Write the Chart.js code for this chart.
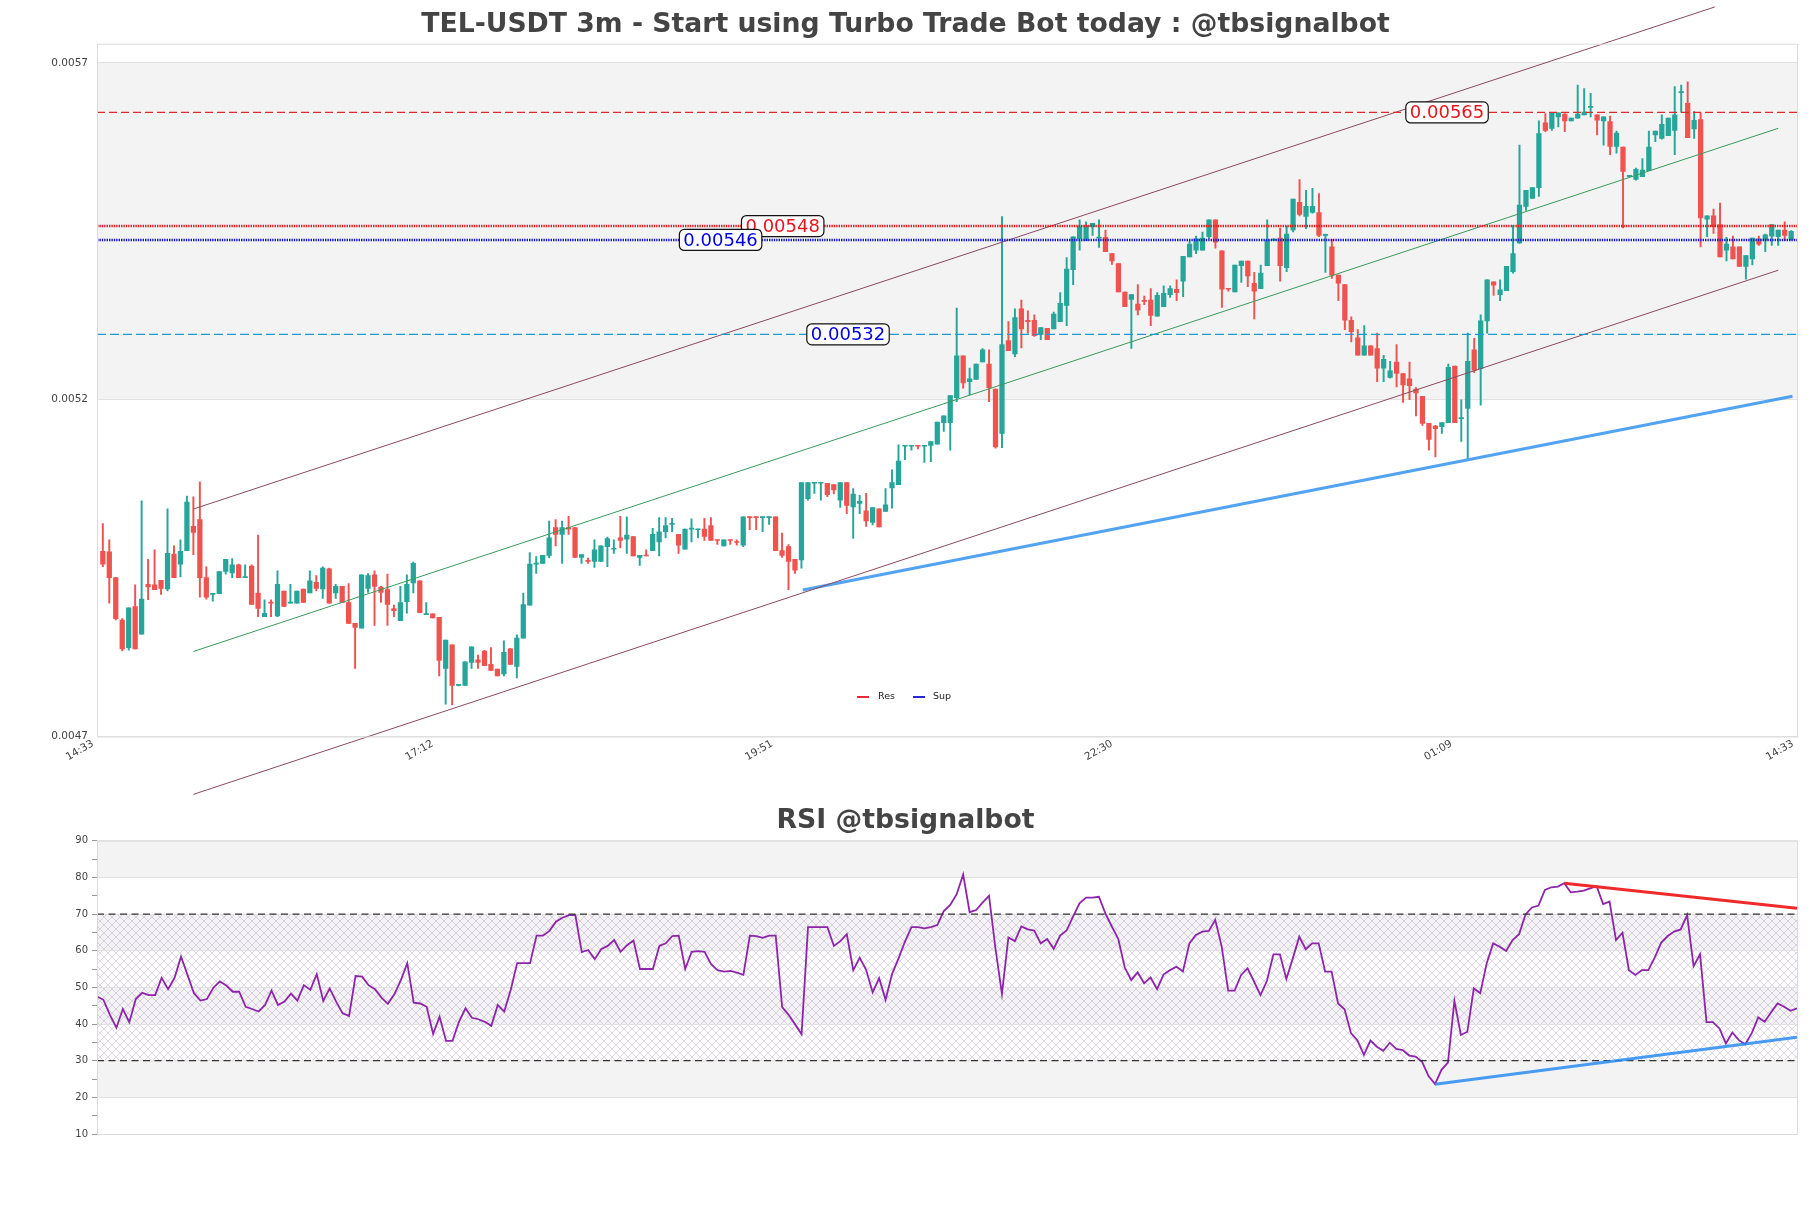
<!DOCTYPE html>
<html>
<head>
<meta charset="utf-8">
<script src="https://cdn.jsdelivr.net/npm/chart.js@4.4.1/dist/chart.umd.min.js"></script>
<style>
  html, body { margin: 0; padding: 0; background: #fff; }
  #wrap { position: relative; width: 1811px; height: 1208px; }
  #price { position: absolute; left: 0; top: 0; }
  #rsi { position: absolute; left: 0; top: 805px; }
</style>
</head>
<body>
<div id="wrap">
  <canvas id="price" width="1811" height="805"></canvas>
  <canvas id="rsi" width="1811" height="403"></canvas>
</div>
<script>
// ---- candles (3m) ----
const openP = [
  0.004997,0.004996,0.004958,0.004895,0.004854,0.004915,0.004874,0.004948,0.004947,0.004954,
  0.004941,0.004993,0.004978,0.004998,0.005034,0.005044,0.004958,0.004933,0.004934,0.004967,
  0.004965,0.004977,0.004958,0.004975,0.004935,0.004900,0.004921,0.004901,0.004938,0.004920,
  0.004920,0.004941,0.004935,0.004951,0.004941,0.004971,0.004935,0.004945,0.004921,0.004890,
  0.004883,0.004942,0.004962,0.004944,0.004940,0.004912,0.004894,0.004922,0.004950,0.004953,
  0.004903,0.004904,0.004899,0.004823,0.004858,0.004798,0.004798,0.004832,0.004836,0.004849,
  0.004829,0.004822,0.004815,0.004852,0.004826,0.004868,0.004917,0.004978,0.004979,0.004991,
  0.005032,0.005022,0.005032,0.005032,0.004988,0.004983,0.004982,0.004982,0.005004,0.005000,
  0.005017,0.005015,0.005019,0.004988,0.004991,0.004998,0.005011,0.005026,0.005037,0.005022,
  0.005000,0.005030,0.005029,0.005030,0.005035,0.005014,0.005005,0.005014,0.005011,0.005006,
  0.005048,0.005048,0.005047,0.005047,0.005048,0.004998,0.005004,0.004985,0.004984,0.005075,
  0.005098,0.005098,0.005098,0.005096,0.005073,0.005099,0.005063,0.005068,0.005057,0.005040,
  0.005060,0.005056,0.005091,0.005096,0.005153,0.005153,0.005154,0.005153,0.005154,0.005156,
  0.005188,0.005188,0.005225,0.005287,0.005249,0.005252,0.005278,0.005275,0.005238,0.005172,
  0.005310,0.005290,0.005357,0.005340,0.005340,0.005319,0.005328,0.005327,0.005338,0.005362,
  0.005415,0.005461,0.005458,0.005479,0.005462,0.005463,0.005439,0.005424,0.005382,0.005371,
  0.005364,0.005369,0.005370,0.005346,0.005360,0.005378,0.005386,0.005398,0.005434,0.005444,
  0.005444,0.005464,0.005489,0.005443,0.005387,0.005382,0.005421,0.005428,0.005395,0.005387,
  0.005421,0.005459,0.005462,0.005418,0.005474,0.005515,0.005494,0.005500,0.005500,0.005466,
  0.005449,0.005407,0.005393,0.005340,0.005314,0.005288,0.005302,0.005298,0.005269,0.005255,
  0.005278,0.005261,0.005253,0.005238,0.005227,0.005187,0.005183,0.005182,0.005188,0.005272,
  0.005194,0.005209,0.005296,0.005268,0.005339,0.005397,0.005378,0.005384,0.005412,0.005455,
  0.005509,0.005521,0.005537,0.005633,0.005625,0.005642,0.005646,0.005636,0.005640,0.005645,
  0.005656,0.005645,0.005636,0.005635,0.005598,0.005597,0.005553,0.005549,0.005553,0.005562,
  0.005615,0.005610,0.005614,0.005622,0.005678,0.005662,0.005624,0.005638,0.005490,0.005495,
  0.005482,0.005444,0.005449,0.005449,0.005420,0.005431,0.005461,0.005459,0.005465,0.005464,
  0.005474,0.005460
];
const highP = [
  0.005038,0.005014,0.004958,0.004897,0.004913,0.004947,0.005072,0.004985,0.004999,0.004954,
  0.005060,0.005005,0.005014,0.005079,0.005078,0.005100,0.004974,0.004934,0.004967,0.004985,
  0.004986,0.004978,0.004977,0.004977,0.005021,0.004925,0.004925,0.004968,0.004938,0.004948,
  0.004938,0.004941,0.004968,0.004961,0.004974,0.004972,0.004948,0.004945,0.004949,0.004890,
  0.004962,0.004964,0.004968,0.004945,0.004963,0.004917,0.004945,0.004962,0.004981,0.004953,
  0.004921,0.004904,0.004899,0.004865,0.004858,0.004799,0.004833,0.004855,0.004843,0.004850,
  0.004854,0.004822,0.004864,0.004853,0.004873,0.004935,0.004995,0.004989,0.004991,0.005042,
  0.005044,0.005042,0.005049,0.005032,0.004992,0.004987,0.005014,0.005005,0.005018,0.005014,
  0.005049,0.005048,0.005019,0.004991,0.004999,0.005031,0.005047,0.005047,0.005046,0.005022,
  0.005030,0.005045,0.005030,0.005046,0.005047,0.005014,0.005014,0.005014,0.005014,0.005048,
  0.005048,0.005048,0.005048,0.005048,0.005048,0.005024,0.005007,0.004985,0.005099,0.005099,
  0.005099,0.005099,0.005098,0.005096,0.005099,0.005099,0.005090,0.005080,0.005083,0.005062,
  0.005060,0.005090,0.005118,0.005155,0.005154,0.005154,0.005154,0.005154,0.005160,0.005189,
  0.005198,0.005228,0.005358,0.005287,0.005269,0.005275,0.005298,0.005296,0.005238,0.005494,
  0.005338,0.005357,0.005370,0.005354,0.005348,0.005329,0.005328,0.005352,0.005381,0.005433,
  0.005464,0.005489,0.005486,0.005484,0.005489,0.005474,0.005439,0.005424,0.005382,0.005378,
  0.005393,0.005376,0.005387,0.005381,0.005391,0.005391,0.005400,0.005435,0.005458,0.005465,
  0.005471,0.005489,0.005489,0.005443,0.005387,0.005422,0.005428,0.005428,0.005411,0.005422,
  0.005489,0.005461,0.005477,0.005480,0.005520,0.005549,0.005533,0.005536,0.005528,0.005468,
  0.005460,0.005407,0.005393,0.005345,0.005326,0.005332,0.005302,0.005321,0.005288,0.005279,
  0.005304,0.005261,0.005278,0.005240,0.005227,0.005187,0.005184,0.005188,0.005275,0.005272,
  0.005222,0.005321,0.005313,0.005348,0.005400,0.005397,0.005400,0.005420,0.005481,0.005600,
  0.005533,0.005537,0.005636,0.005647,0.005648,0.005648,0.005647,0.005640,0.005689,0.005684,
  0.005677,0.005645,0.005642,0.005643,0.005621,0.005597,0.005555,0.005566,0.005580,0.005621,
  0.005621,0.005645,0.005640,0.005687,0.005689,0.005694,0.005650,0.005648,0.005495,0.005505,
  0.005514,0.005463,0.005465,0.005449,0.005436,0.005462,0.005465,0.005468,0.005482,0.005474,
  0.005486,0.005473
];
const lowP = [
  0.004974,0.004920,0.004895,0.004849,0.004850,0.004852,0.004874,0.004925,0.004940,0.004933,
  0.004938,0.004958,0.004959,0.004998,0.004992,0.004929,0.004926,0.004923,0.004934,0.004963,
  0.004958,0.004958,0.004958,0.004918,0.004900,0.004900,0.004900,0.004900,0.004915,0.004920,
  0.004920,0.004921,0.004935,0.004938,0.004927,0.004920,0.004927,0.004921,0.004890,0.004823,
  0.004883,0.004936,0.004887,0.004921,0.004887,0.004900,0.004894,0.004905,0.004935,0.004906,
  0.004903,0.004898,0.004812,0.004770,0.004769,0.004797,0.004798,0.004823,0.004823,0.004827,
  0.004820,0.004812,0.004812,0.004829,0.004809,0.004868,0.004917,0.004964,0.004979,0.004987,
  0.005005,0.004979,0.005022,0.004988,0.004979,0.004979,0.004973,0.004982,0.004974,0.004994,
  0.005002,0.004994,0.004990,0.004976,0.004990,0.004998,0.004990,0.005017,0.005026,0.004994,
  0.005000,0.005011,0.005017,0.005013,0.005013,0.005007,0.005005,0.005007,0.005006,0.005004,
  0.005029,0.005029,0.005026,0.005037,0.004998,0.004988,0.004940,0.004964,0.004972,0.005073,
  0.005083,0.005073,0.005078,0.005082,0.005062,0.005053,0.005016,0.005053,0.005034,0.005036,
  0.005033,0.005056,0.005061,0.005096,0.005133,0.005147,0.005149,0.005129,0.005130,0.005156,
  0.005175,0.005147,0.005219,0.005239,0.005229,0.005252,0.005278,0.005219,0.005150,0.005151,
  0.005295,0.005286,0.005299,0.005321,0.005316,0.005311,0.005311,0.005327,0.005338,0.005332,
  0.005393,0.005444,0.005458,0.005466,0.005448,0.005442,0.005423,0.005382,0.005360,0.005298,
  0.005348,0.005363,0.005332,0.005346,0.005360,0.005374,0.005369,0.005375,0.005434,0.005439,
  0.005444,0.005461,0.005447,0.005359,0.005383,0.005382,0.005396,0.005390,0.005342,0.005387,
  0.005421,0.005458,0.005398,0.005412,0.005471,0.005495,0.005476,0.005499,0.005464,0.005411,
  0.005402,0.005369,0.005326,0.005308,0.005288,0.005288,0.005288,0.005249,0.005249,0.005254,
  0.005241,0.005218,0.005222,0.005198,0.005184,0.005147,0.005137,0.005172,0.005188,0.005188,
  0.005160,0.005135,0.005262,0.005214,0.005321,0.005377,0.005369,0.005384,0.005410,0.005454,
  0.005503,0.005521,0.005524,0.005620,0.005622,0.005627,0.005620,0.005636,0.005640,0.005645,
  0.005642,0.005615,0.005600,0.005586,0.005588,0.005477,0.005553,0.005548,0.005553,0.005562,
  0.005605,0.005609,0.005614,0.005586,0.005649,0.005611,0.005610,0.005449,0.005464,0.005469,
  0.005434,0.005428,0.005431,0.005420,0.005401,0.005422,0.005451,0.005442,0.005451,0.005451,
  0.005458,0.005459
];
const closeP = [
  0.004978,0.004958,0.004897,0.004852,0.004913,0.004852,0.004926,0.004944,0.004940,0.004942,
  0.004994,0.004958,0.004997,0.005070,0.005025,0.004958,0.004929,0.004934,0.004967,0.004985,
  0.004977,0.004958,0.004959,0.004918,0.004912,0.004905,0.004920,0.004948,0.004915,0.004921,
  0.004938,0.004921,0.004953,0.004942,0.004972,0.004920,0.004945,0.004921,0.004890,0.004884,
  0.004962,0.004961,0.004945,0.004936,0.004918,0.004909,0.004921,0.004948,0.004979,0.004906,
  0.004904,0.004898,0.004835,0.004865,0.004798,0.004799,0.004833,0.004855,0.004832,0.004827,
  0.004820,0.004812,0.004847,0.004829,0.004868,0.004918,0.004978,0.004979,0.004991,0.005017,
  0.005022,0.005032,0.005030,0.004988,0.004992,0.004982,0.004999,0.005005,0.005016,0.005001,
  0.005013,0.005021,0.004990,0.004991,0.004990,0.005022,0.005026,0.005035,0.005038,0.005006,
  0.005030,0.005031,0.005030,0.005019,0.005013,0.005013,0.005014,0.005013,0.005010,0.005048,
  0.005047,0.005047,0.005048,0.005048,0.004998,0.004991,0.004982,0.004969,0.005099,0.005099,
  0.005099,0.005099,0.005081,0.005088,0.005099,0.005065,0.005082,0.005071,0.005042,0.005062,
  0.005033,0.005066,0.005099,0.005131,0.005154,0.005154,0.005153,0.005154,0.005160,0.005189,
  0.005198,0.005228,0.005287,0.005247,0.005253,0.005275,0.005296,0.005240,0.005152,0.005304,
  0.005295,0.005344,0.005327,0.005338,0.005317,0.005329,0.005311,0.005349,0.005365,0.005416,
  0.005464,0.005480,0.005481,0.005484,0.005463,0.005442,0.005428,0.005382,0.005360,0.005378,
  0.005355,0.005368,0.005347,0.005377,0.005380,0.005387,0.005381,0.005435,0.005453,0.005461,
  0.005462,0.005489,0.005456,0.005386,0.005386,0.005422,0.005428,0.005406,0.005383,0.005410,
  0.005459,0.005460,0.005421,0.005468,0.005520,0.005497,0.005509,0.005509,0.005466,0.005467,
  0.005407,0.005395,0.005340,0.005323,0.005288,0.005302,0.005288,0.005269,0.005282,0.005265,
  0.005261,0.005244,0.005243,0.005232,0.005187,0.005163,0.005179,0.005188,0.005270,0.005188,
  0.005195,0.005279,0.005266,0.005339,0.005400,0.005392,0.005385,0.005420,0.005439,0.005511,
  0.005533,0.005537,0.005617,0.005622,0.005648,0.005648,0.005636,0.005640,0.005646,0.005649,
  0.005657,0.005637,0.005642,0.005598,0.005618,0.005561,0.005555,0.005564,0.005563,0.005597,
  0.005621,0.005631,0.005640,0.005645,0.005679,0.005611,0.005637,0.005492,0.005495,0.005479,
  0.005434,0.005453,0.005431,0.005420,0.005436,0.005462,0.005453,0.005467,0.005482,0.005474,
  0.005466,0.005472
];

// axis ticks
const timeTicks = [-0.9, 51.6, 104.1, 156.6, 209.1, 261.9];
const timeLabels = ['14:33', '17:12', '19:51', '22:30', '01:09', '14:33'];
const priceTicks = [0.004722, 0.005222, 0.005722];
const priceTickLabels = ['0.0047', '0.0052', '0.0057'];

// levels: resistance (red) / support (blue)
const resLevels = [0.0056485, 0.0054799];
const resLabels = ['0.00565', '0.00548'];
const resLabelX = [207.8, 105.1];
const supLevels = [0.0054592, 0.0053191];
const supLabels = ['0.00546', '0.00532'];
const supLabelX = [95.5, 115.2];

// trend channel + support trendline (candle index, price)
const upperX = [14, 249.2];
const upperY = [0.0050597, 0.0058052];
const channelX = [14, 259];
const channelMid = [0.0048482, 0.0056250];
const channelLower = [0.0046361, 0.0054143];
const trendX = [108.2, 261.2];
const trendY = [0.0049395, 0.0052272];

// ---- RSI ----
const rsiValues = [
  47.5,46.6,42.5,39.0,44.1,40.5,46.8,48.5,47.9,47.9,52.6,49.5,52.6,58.4,53.4,48.4,46.4,46.8,49.9,51.6,
  50.5,48.8,48.8,44.7,44.1,43.4,45.2,49.1,45.2,46.1,48.3,46.4,50.6,49.3,53.6,46.3,49.7,46.1,42.9,42.2,
  53.1,52.9,50.6,49.5,47.2,45.5,48.1,51.9,56.6,45.8,45.6,44.7,37.3,42.0,35.4,35.4,40.6,44.3,41.7,41.3,
  40.6,39.5,45.2,43.4,49.3,56.6,56.6,56.6,64.1,64.1,65.4,67.9,69.0,69.7,69.7,59.6,60.2,57.7,60.4,61.3,
  62.9,59.7,61.5,62.8,55.0,55.0,55.0,61.3,62.0,
  64.0,64.1,55.0,59.7,59.9,59.7,56.3,54.7,54.3,54.5,54.0,53.4,64.1,64.0,63.5,64.1,64.1,44.6,42.5,39.9,
  37.2,66.4,66.4,66.4,66.4,61.3,62.6,64.5,54.7,58.1,54.7,48.6,52.5,46.6,53.6,57.9,62.5,66.4,66.4,66.1,
  66.4,67.0,70.8,72.5,75.4,80.8,70.5,71.1,73.1,75.0,60.6,48.2,63.6,62.6,66.6,65.8,65.5,62.0,63.2,60.5,
  64.1,65.5,69.3,72.9,74.5,74.5,74.7,70.2,66.6,63.2,55.4,52.0,54.1,51.1,52.7,49.5,53.5,54.7,55.6,54.3,
  62.0,64.3,65.2,65.4,68.4,61.1,49.1,49.1,53.4,
  55.2,51.6,47.9,51.8,59.0,59.0,52.3,57.9,63.8,60.4,62.0,62.0,54.3,54.3,45.6,44.0,37.5,35.5,31.6,35.5,
  33.8,32.7,34.9,33.2,32.9,31.4,31.1,29.7,25.8,23.6,27.5,29.5,46.3,37.0,37.9,49.7,48.4,56.6,62.0,61.1,
  59.9,62.9,64.5,69.9,71.8,72.3,76.6,77.3,77.5,78.4,75.9,76.1,76.4,77.0,77.6,72.7,73.4,62.9,64.9,54.7,
  53.4,54.7,54.7,58.2,62.2,64.0,65.2,65.8,69.7,55.8,59.0,40.5,40.5,38.8,34.7,37.7,35.6,34.5,37.5,41.8,
  40.6,43.2,45.6,44.7,43.6,44.3
];
const rsiResX = [227, 263];
const rsiResY = [78.4, 71.6];
const rsiSupX = [207, 263];
const rsiSupY = [23.6, 36.4];
const rsiBands = [[80, 90], [60, 70], [40, 50], [20, 30]];
const rsiLevels = [70, 30];

const FONT = '"DejaVu Sans", Verdana, sans-serif';
const UP = '#26a69a', DOWN = '#ef5350';
Chart.defaults.font.family = FONT;

function seg(xs, ys, color, width, dash, noClip) {
  const ds = {
    type: 'line',
    data: xs.map((x, k) => ({ x: x, y: ys[k] })),
    borderColor: color, borderWidth: width, borderDash: dash || [],
    pointRadius: 0, fill: false, tension: 0, order: 0
  };
  if (noClip) ds.clip = false;
  return ds;
}

function tag(ctx, text, cx, cy, color) {
  ctx.save();
  ctx.font = '18px ' + FONT;
  const w = ctx.measureText(text).width + 8, h = 21;
  ctx.beginPath();
  ctx.roundRect(cx - w / 2, cy - h / 2, w, h, 5);
  ctx.fillStyle = '#fff'; ctx.fill();
  ctx.lineWidth = 1.2; ctx.strokeStyle = '#111'; ctx.stroke();
  ctx.fillStyle = color; ctx.textAlign = 'center'; ctx.textBaseline = 'middle';
  ctx.fillText(text, cx, cy + 1);
  ctx.restore();
}

const idx = openP.map((_, i) => i);
const candleColors = idx.map(i => closeP[i] >= openP[i] ? UP : DOWN);
const xMin = timeTicks[0], xMax = timeTicks[timeTicks.length - 1];

const priceOverlay = {
  id: 'priceOverlay',
  beforeDraw(chart) {
    const { ctx, chartArea: a, scales: { y } } = chart;
    ctx.save();
    ctx.fillStyle = '#f3f3f3';
    const t = y.getPixelForValue(priceTicks[2]), b = y.getPixelForValue(priceTicks[1]);
    ctx.fillRect(a.left, t, a.right - a.left, b - t);
    ctx.restore();
  },
  afterDatasetsDraw(chart) {
    const { ctx, scales: { x, y } } = chart;
    resLevels.forEach((v, k) => tag(ctx, resLabels[k], x.getPixelForValue(resLabelX[k]), y.getPixelForValue(v), '#e8141c'));
    supLevels.forEach((v, k) => tag(ctx, supLabels[k], x.getPixelForValue(supLabelX[k]), y.getPixelForValue(v), '#0000e0'));
  },
  afterDraw(chart) {
    const { ctx, chartArea: a } = chart;
    ctx.save();
    ctx.strokeStyle = '#dcdcdc'; ctx.lineWidth = 1;
    ctx.strokeRect(a.left + 0.5, a.top + 0.5, a.right - a.left, a.bottom - a.top);
    ctx.fillStyle = '#444'; ctx.font = 'bold 26.7px ' + FONT;
    ctx.textAlign = 'center'; ctx.textBaseline = 'middle';
    ctx.fillText('TEL-USDT 3m - Start using Turbo Trade Bot today : @tbsignalbot', 905.5, 25);
    // legend
    ctx.font = '9.5px ' + FONT; ctx.textAlign = 'left'; ctx.fillStyle = '#222';
    ctx.lineWidth = 1.8;
    ctx.strokeStyle = '#e8141c';
    ctx.beginPath(); ctx.moveTo(857, 697); ctx.lineTo(869, 697); ctx.stroke();
    ctx.fillText('Res', 878, 697);
    ctx.strokeStyle = '#1010c8';
    ctx.beginPath(); ctx.moveTo(913, 697); ctx.lineTo(925, 697); ctx.stroke();
    ctx.fillText('Sup', 933, 697);
    ctx.restore();
  }
};

new Chart(document.getElementById('price'), {
  type: 'bar',
  data: {
    datasets: [
      seg([xMin, xMax], [resLevels[0], resLevels[0]], '#dd2a2a', 1.2, [8, 4]),
      seg([xMin, xMax], [resLevels[1], resLevels[1]], '#e41a1a', 2.6, [1.4, 1]),
      seg([xMin, xMax], [supLevels[0], supLevels[0]], '#1a1acc', 2.6, [1.4, 1]),
      seg([xMin, xMax], [supLevels[1], supLevels[1]], '#1c9ad8', 1.3, [9, 4]),
      seg(upperX, upperY, '#8b4a5e', 1, null, true),
      seg(channelX, channelMid, '#3a9a5c', 1, null, true),
      seg(channelX, channelLower, '#8b4a5e', 1, null, true),
      seg(trendX, trendY, 'rgba(40,140,240,0.8)', 3.2),
      {
        type: 'bar', data: idx.map(i => ({ x: i, y: [lowP[i], highP[i]] })),
        backgroundColor: candleColors, barThickness: 1.3, grouped: false, order: 2
      },
      {
        type: 'bar', data: idx.map(i => ({ x: i, y: [openP[i], closeP[i]] })),
        backgroundColor: candleColors, barThickness: 4.6, minBarLength: 1, grouped: false, order: 1
      }
    ]
  },
  options: {
    responsive: false, animation: false, devicePixelRatio: 1,
    layout: { padding: { top: 43.7, right: 14, bottom: 0, left: 0 } },
    plugins: { legend: { display: false }, tooltip: { enabled: false } },
    scales: {
      x: {
        type: 'linear', min: xMin, max: xMax, offset: false,
        grid: { display: false, offset: false, drawTicks: false },
        border: { display: false },
        afterBuildTicks: s => { s.ticks = timeTicks.map(v => ({ value: v })); },
        afterFit: s => { s.height = 68.5; },
        ticks: {
          autoSkip: false, minRotation: 30, maxRotation: 30, padding: 1, labelOffset: -4,
          color: '#444', font: { size: 10.5 },
          callback: (v, i) => timeLabels[i]
        }
      },
      y: {
        min: priceTicks[0], max: 0.0057506,
        grid: { color: '#e2e2e2', drawTicks: false },
        border: { display: false },
        afterBuildTicks: s => { s.ticks = priceTicks.map(v => ({ value: v })); },
        afterFit: s => { s.width = 97; },
        ticks: { padding: 9, color: '#444', font: { size: 10.5 }, callback: (v, i) => priceTickLabels[i] }
      }
    }
  },
  plugins: [priceOverlay]
});

// ---- RSI chart ----
function hatch(ctx) {
  const c = document.createElement('canvas');
  c.width = 8; c.height = 8;
  const g = c.getContext('2d');
  g.strokeStyle = 'rgba(170,140,195,0.5)'; g.lineWidth = 0.7;
  g.beginPath(); g.moveTo(0, 0); g.lineTo(8, 8); g.moveTo(8, 0); g.lineTo(0, 8); g.stroke();
  return ctx.createPattern(c, 'repeat');
}

const rsiOverlay = {
  id: 'rsiOverlay',
  beforeDraw(chart) {
    const { ctx, chartArea: a, scales: { y } } = chart;
    ctx.save();
    ctx.fillStyle = '#f3f3f3';
    rsiBands.forEach(([lo, hi]) => {
      const t = y.getPixelForValue(hi), b = y.getPixelForValue(lo);
      ctx.fillRect(a.left, t, a.right - a.left, b - t);
    });
    const t = y.getPixelForValue(rsiLevels[0]), b = y.getPixelForValue(rsiLevels[1]);
    ctx.fillStyle = hatch(ctx);
    ctx.fillRect(a.left, t, a.right - a.left, b - t);
    ctx.restore();
  },
  afterDraw(chart) {
    const { ctx, chartArea: a } = chart;
    ctx.save();
    ctx.strokeStyle = '#dcdcdc'; ctx.lineWidth = 1;
    ctx.strokeRect(a.left + 0.5, a.top + 0.5, a.right - a.left, a.bottom - a.top);
    ctx.fillStyle = '#444'; ctx.font = 'bold 26.7px ' + FONT;
    ctx.textAlign = 'center'; ctx.textBaseline = 'middle';
    ctx.fillText('RSI @tbsignalbot', 905.5, 16.5);
    ctx.restore();
  }
};

const rsiLast = rsiValues.length - 1;
new Chart(document.getElementById('rsi'), {
  type: 'line',
  data: {
    datasets: [
      seg(rsiResX, rsiResY, '#f02a2a', 3),
      seg(rsiSupX, rsiSupY, 'rgba(40,140,240,0.85)', 3),
      {
        data: rsiValues.map((v, i) => ({ x: i, y: v })),
        borderColor: '#8e24aa', borderWidth: 1.8, pointRadius: 0, tension: 0, order: 1
      },
      seg([0, rsiLast], [rsiLevels[0], rsiLevels[0]], '#333', 1.3, [7, 4.5]),
      seg([0, rsiLast], [rsiLevels[1], rsiLevels[1]], '#333', 1.3, [7, 4.5])
    ]
  },
  options: {
    responsive: false, animation: false, devicePixelRatio: 1,
    layout: { padding: { top: 35.7, right: 14, bottom: 74, left: 0 } },
    plugins: { legend: { display: false }, tooltip: { enabled: false } },
    scales: {
      x: { type: 'linear', min: 0, max: rsiLast, display: false },
      y: {
        min: 10, max: 90,
        border: { display: false },
        grid: {
          color: c => (c.tick && c.tick.value % 10 === 0) ? '#e2e2e2' : 'rgba(0,0,0,0)',
          tickColor: '#999', tickLength: 5
        },
        afterFit: s => { s.width = 97; },
        ticks: {
          stepSize: 5, padding: 4, color: '#444', font: { size: 10 },
          callback: v => (v % 10 === 0 ? String(v) : '')
        }
      }
    }
  },
  plugins: [rsiOverlay]
});
</script>
</body>
</html>
